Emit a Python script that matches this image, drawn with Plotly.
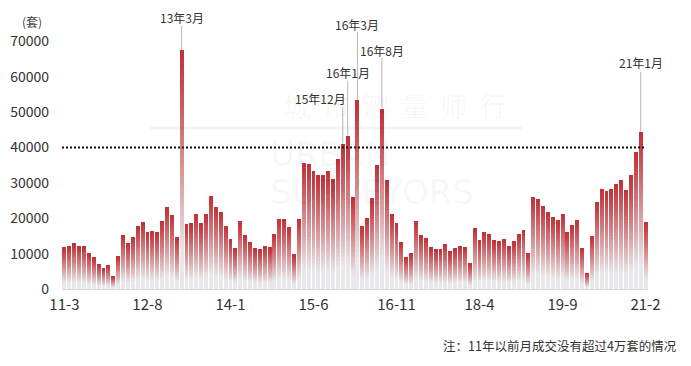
import plotly.graph_objects as go

# ---------------- data ----------------
start_year = 2011
start_month = 3
n_months = 120
categories = []
yy, mm = start_year, start_month
for _ in range(n_months):
    categories.append(f"{yy % 100}-{mm}")
    mm += 1
    if mm > 12:
        mm = 1
        yy += 1

values = [
    11700, 12000, 12800, 12000, 12000, 9900, 8800, 6900, 5900, 6600,
    3600, 9200, 15200, 13000, 14800, 17900, 18900, 16200, 16400, 16000,
    19300, 23200, 20900, 14600, 67600, 18400, 18700, 21100, 18700, 21100,
    26200, 23300, 21700, 17900, 14000, 11500, 19300, 15300, 13300, 11500,
    11200, 12200, 11700, 15500, 19900, 19900, 17600, 9700, 19800, 35700,
    35400, 33500, 32100, 32200, 33400, 31000, 36700, 41100, 43400, 26000,
    53500, 17800, 20100, 25600, 35200, 51000, 30800, 21100, 18700, 13200,
    9000, 9900, 19300, 15400, 14400, 11700, 11200, 11300, 12600, 10500,
    11500, 12100, 11900, 7200, 17300, 13800, 16100, 15600, 13900, 13500,
    14100, 12100, 13500, 15600, 16800, 9900, 26100, 25500, 23600, 21800,
    20400, 19600, 21200, 16000, 18200, 19600, 11500, 4500, 15100, 24500,
    28400, 27600, 28400, 29800, 30800, 28100, 32100, 38600, 44500, 19000,
]

tick_step = 17
tick_vals = categories[::tick_step]
y_ticks = [0, 10000, 20000, 30000, 40000, 50000, 60000, 70000]
y_tick_text = [str(v) for v in y_ticks]
threshold = 40000

highlight_months = ["13-3", "15-12", "16-1", "16-3", "16-8", "21-1"]
highlight_labels = ["13年3月", "15年12月", "16年1月", "16年3月", "16年8月", "21年1月"]

unit_label = "(套)"
note_text = "注：11年以前月成交没有超过4万套的情况"

# ---------------- style ----------------
W, H = 691, 366
M_L, M_R, M_T, M_B = 62, 43, 5, 77
Y_MAX = 80300
plot_h = H - M_T - M_B
plot_w = W - M_L - M_R
FONT = "Noto Sans CJK SC"


def py_to_val(py):
    return (H - M_B - py) / plot_h * Y_MAX


def px_x(px):
    return (px - M_L) / plot_w


def px_y(py):
    return (H - M_B - py) / plot_h


# label placement (pixel y of text centre, pixel y of line top, x shift)
label_style = {
    "13-3": (17, 26, 0),
    "15-12": (98, 107, -22),
    "16-1": (72, 81, 0),
    "16-3": (24, 32, 0),
    "16-8": (50, 58, 0),
    "21-1": (62, 72, 0),
}

red = (194, 48, 54)
gray = (232, 232, 234)
N_SEG = 36

fig = go.Figure()
for k in range(N_SEG):
    t = 1 - (k + 0.5) / N_SEG  # 0 top, 1 bottom
    f = min(1.0, t / 0.85) ** 1.1
    c = tuple(round(red[i] + (gray[i] - red[i]) * f) for i in range(3))
    fig.add_trace(go.Bar(
        x=categories,
        y=[v / N_SEG for v in values],
        marker=dict(color=f"rgb{c}", line=dict(width=0)),
        hoverinfo="skip",
        showlegend=False,
    ))

shapes = [
    dict(type="line", xref="paper", yref="y", x0=0, x1=0.995,
         y0=threshold, y1=threshold,
         line=dict(color="#111", width=2, dash="2px,2px"), layer="above"),
]
annotations = []
for mon, lab in zip(highlight_months, highlight_labels):
    idx = categories.index(mon)
    ty, ly, xs = label_style[mon]
    shapes.append(dict(type="line", xref="x", yref="y", x0=idx, x1=idx,
                       y0=values[idx], y1=py_to_val(ly),
                       line=dict(color="#b8b8b8", width=1), layer="above"))
    annotations.append(dict(x=idx, y=py_to_val(ty), xref="x", yref="y",
                            xanchor="center", yanchor="middle",
                            text=lab, showarrow=False, xshift=xs,
                            font=dict(family=FONT, size=12, color="#333")))

# watermark
wm = "rgba(0,0,0,0.045)"
annotations += [
    dict(x=px_x(395), y=px_y(105), xref="paper", yref="paper",
         xanchor="center", yanchor="middle",
         text="城  市  测  量  师  行", showarrow=False,
         font=dict(family=FONT, size=27, color=wm)),
    dict(x=px_x(268), y=px_y(154), xref="paper", yref="paper",
         xanchor="left", yanchor="middle", text="URBAN", showarrow=False,
         font=dict(family="DejaVu Sans", size=34, color=wm)),
    dict(x=px_x(268), y=px_y(192), xref="paper", yref="paper",
         xanchor="left", yanchor="middle", text="SURVEYORS", showarrow=False,
         font=dict(family="DejaVu Sans", size=34, color=wm)),
]
shapes.append(dict(type="line", xref="paper", yref="paper",
                   x0=px_x(150), x1=px_x(522), y0=px_y(128), y1=px_y(128),
                   line=dict(color=wm, width=3), layer="above"))

annotations.append(dict(x=px_x(32), y=px_y(21), xref="paper", yref="paper",
                        xanchor="center", yanchor="middle",
                        text=unit_label, showarrow=False,
                        font=dict(family=FONT, size=12, color="#444")))
annotations.append(dict(x=px_x(679), y=px_y(345), xref="paper", yref="paper",
                        xanchor="right", yanchor="middle",
                        text=note_text, showarrow=False,
                        font=dict(family=FONT, size=12.5, color="#333")))

fig.update_layout(
    width=W, height=H,
    margin=dict(l=M_L, r=M_R, t=M_T, b=M_B),
    paper_bgcolor="white", plot_bgcolor="white",
    barmode="stack", bargap=0.2,
    shapes=shapes, annotations=annotations,
    font=dict(family=FONT, color="#333"),
)
fig.update_xaxes(
    type="category", tickmode="array", tickvals=tick_vals, ticktext=tick_vals,
    showgrid=False, showline=True, linecolor="#d8d8d8", linewidth=1,
    ticks="", tickfont=dict(family=FONT, size=15, color="#333"),
    ticklabelstandoff=2, range=[-0.5, n_months - 0.5],
)
fig.update_yaxes(
    range=[0, Y_MAX], tickmode="array", tickvals=y_ticks, ticktext=y_tick_text,
    showgrid=False, zeroline=False, showline=False, ticks="",
    tickfont=dict(family=FONT, size=14, color="#333"),
    ticklabelstandoff=12,
)

fig.write_html("out.html")
